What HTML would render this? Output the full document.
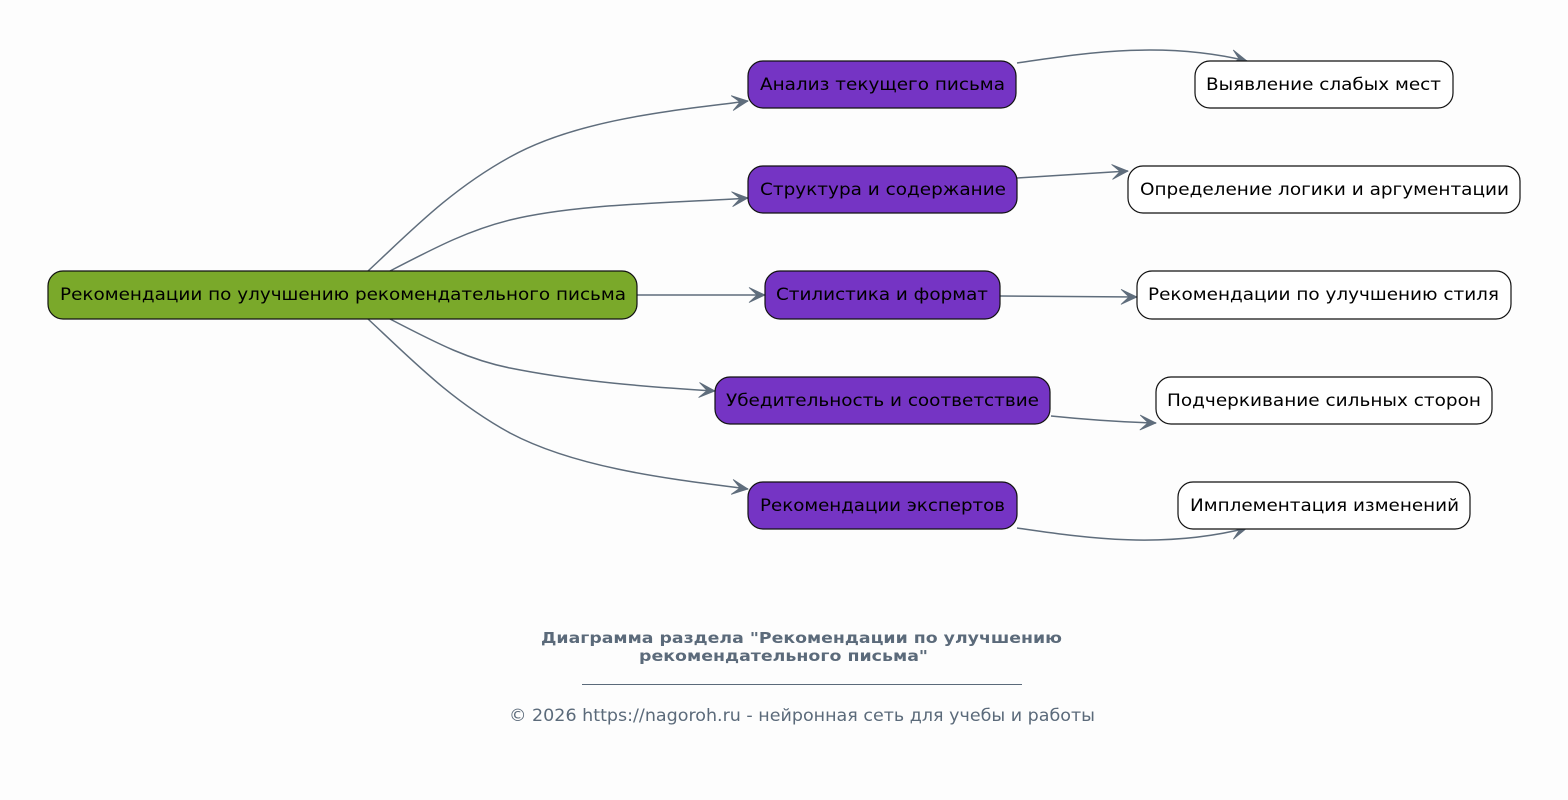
<!DOCTYPE html>
<html><head><meta charset="utf-8"><style>
html,body{margin:0;padding:0;background:#fdfdfd;}
svg{display:block;}
text{font-family:"DejaVu Sans","Liberation Sans",sans-serif;}
</style></head><body>
<svg width="1568" height="800" viewBox="0 0 1568 800" xmlns="http://www.w3.org/2000/svg">
<defs>
<marker id="a" viewBox="0 0 18 18" refX="17" refY="9" markerWidth="18" markerHeight="18" markerUnits="userSpaceOnUse" orient="auto">
<path d="M1,1.5 L17,9 L1,16.5 L9,9 Z" fill="#5f6d7c" stroke="#5f6d7c" stroke-width="0.8" stroke-linejoin="miter"/>
</marker>
</defs>
<rect width="1568" height="800" fill="#fdfdfd"/>
<g fill="none" stroke="#5f6d7c" stroke-width="1.5" marker-end="url(#a)">
<path d="M368,271 C410,232 450,190 510,157 C580,118 680,110 748,101"/>
<path d="M390,271 C440,245 470,230 510,220 C580,203 680,203 748,198"/>
<path d="M637,295 L765,295"/>
<path d="M390,319 C440,345 470,360 510,368 C580,382 650,387 715,391"/>
<path d="M368,319 C410,358 450,400 510,433 C580,470 680,480 748,489"/>
<path d="M1017,63 C1080,54 1160,40 1247,61"/>
<path d="M1017,178 C1060,175 1095,173 1128,171"/>
<path d="M1000,296 L1137,297"/>
<path d="M1051,416 C1090,420 1120,422 1156,423"/>
<path d="M1017,528 C1080,537 1160,550 1247,528"/>
</g>
<g stroke="#111" stroke-width="1.2">
<rect x="48" y="271" width="589" height="48" rx="15" fill="#7aa92a"/>
<rect x="748" y="61" width="268" height="47" rx="15" fill="#7534c4"/>
<rect x="748" y="166" width="269" height="47" rx="15" fill="#7534c4"/>
<rect x="765" y="271" width="235" height="48" rx="15" fill="#7534c4"/>
<rect x="715" y="377" width="335" height="47" rx="15" fill="#7534c4"/>
<rect x="748" y="482" width="269" height="47" rx="15" fill="#7534c4"/>
<rect x="1195" y="61" width="258" height="47" rx="15" fill="#ffffff"/>
<rect x="1128" y="166" width="392" height="47" rx="15" fill="#ffffff"/>
<rect x="1137" y="271" width="374" height="48" rx="15" fill="#ffffff"/>
<rect x="1156" y="377" width="336" height="47" rx="15" fill="#ffffff"/>
<rect x="1178" y="482" width="292" height="47" rx="15" fill="#ffffff"/>
</g>
<g font-size="17" fill="#000">
<text x="60" y="300" textLength="566" lengthAdjust="spacingAndGlyphs">Рекомендации по улучшению рекомендательного письма</text>
<text x="760" y="90" textLength="245" lengthAdjust="spacingAndGlyphs">Анализ текущего письма</text>
<text x="760" y="195" textLength="246" lengthAdjust="spacingAndGlyphs">Структура и содержание</text>
<text x="776" y="300" textLength="212" lengthAdjust="spacingAndGlyphs">Стилистика и формат</text>
<text x="726" y="406" textLength="313" lengthAdjust="spacingAndGlyphs">Убедительность и соответствие</text>
<text x="760" y="511" textLength="245" lengthAdjust="spacingAndGlyphs">Рекомендации экспертов</text>
<text x="1206" y="90" textLength="235" lengthAdjust="spacingAndGlyphs">Выявление слабых мест</text>
<text x="1140" y="195" textLength="369" lengthAdjust="spacingAndGlyphs">Определение логики и аргументации</text>
<text x="1148" y="300" textLength="351" lengthAdjust="spacingAndGlyphs">Рекомендации по улучшению стиля</text>
<text x="1167" y="406" textLength="314" lengthAdjust="spacingAndGlyphs">Подчеркивание сильных сторон</text>
<text x="1190" y="511" textLength="269" lengthAdjust="spacingAndGlyphs">Имплементация изменений</text>
</g>
<g fill="#5b6a7a">
<text x="541" y="643" font-size="15.5" font-weight="bold" textLength="521" lengthAdjust="spacingAndGlyphs">Диаграмма раздела "Рекомендации по улучшению</text>
<text x="639" y="661" font-size="15.5" font-weight="bold" textLength="289" lengthAdjust="spacingAndGlyphs">рекомендательного письма"</text>
<text x="509" y="721" font-size="16.5" textLength="586" lengthAdjust="spacingAndGlyphs">© 2026 https://nagoroh.ru - нейронная сеть для учебы и работы</text>
</g>
<line x1="582" y1="684.5" x2="1022" y2="684.5" stroke="#5b6a7a" stroke-width="1"/>
</svg>
</body></html>
